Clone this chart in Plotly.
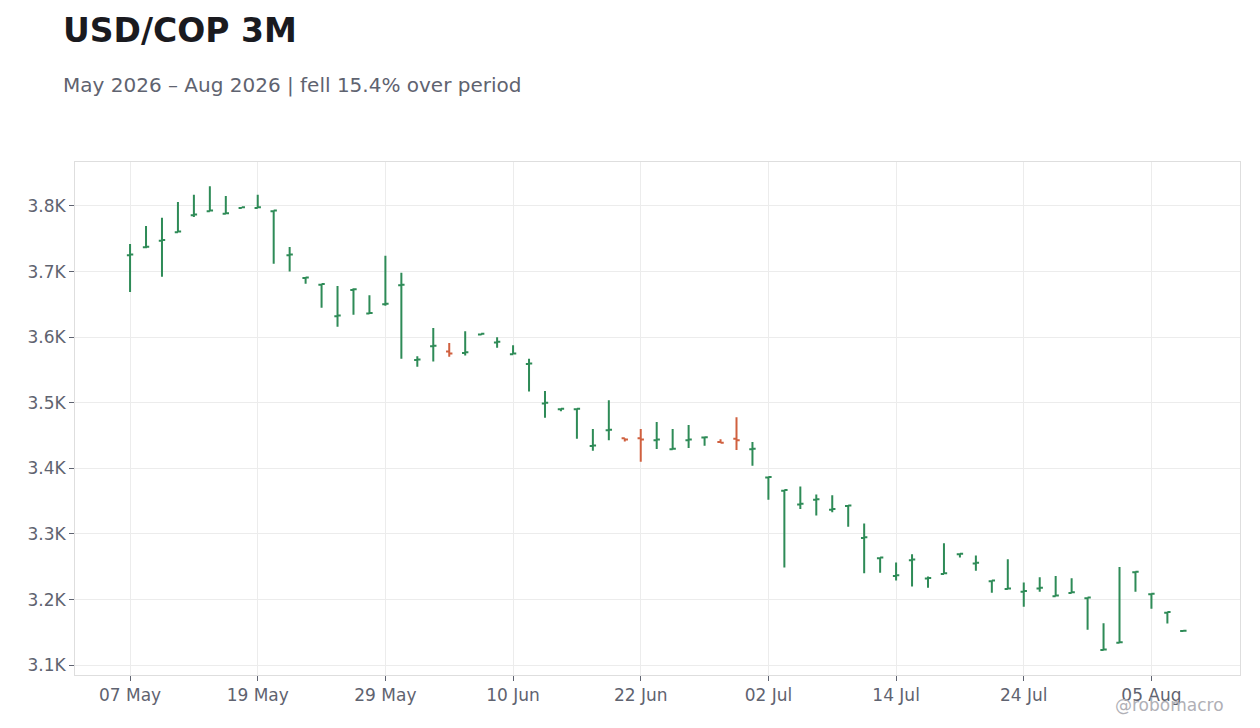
import pandas as pd
import plotly.graph_objects as go

# business days, 07 May 2026 -> 07 Aug 2026
dates = pd.bdate_range("2026-05-07", periods=67)
x_cats = [d.strftime("%Y-%m-%d") for d in dates]

opens = [3725, 3737, 3747, 3760, 3786, 3792, 3788, 3797, 3797, 3792,
         3725, 3690, 3680, 3632, 3672, 3636, 3650, 3679, 3565, 3586,
         3578, 3576, 3604, 3592, 3574, 3559, 3499, 3490, 3490, 3434,
         3458, 3446, 3446, 3443, 3429, 3443, 3447, 3440, 3445, 3429,
         3386, 3366, 3345, 3352, 3337, 3342.5, 3294, 3263, 3236, 3260,
         3232, 3239, 3269, 3255, 3228, 3216, 3212, 3217, 3205, 3210,
         3202, 3123, 3134, 3241.5, 3208, 3180, 3152]
highs = [3742, 3769.5, 3782, 3806, 3817, 3830, 3815, 3798.5, 3817, 3793,
         3737.5, 3691, 3681, 3678, 3674.5, 3664, 3724, 3698, 3571, 3614,
         3591, 3609, 3605.5, 3600, 3587.5, 3567, 3518, 3491.5, 3491, 3460,
         3504, 3446, 3460, 3470.5, 3460, 3466, 3447.5, 3444.5, 3478, 3440,
         3387, 3367, 3372.5, 3360, 3359, 3343.5, 3316, 3264, 3256.5, 3269,
         3235, 3286, 3270.5, 3267, 3229, 3261.5, 3226, 3234, 3236, 3232.5,
         3203, 3164, 3249.5, 3242.5, 3209, 3181, 3153]
lows = [3669, 3735.5, 3692, 3760, 3783, 3792, 3788, 3797, 3797, 3712,
        3700, 3681.5, 3645, 3616, 3634, 3636, 3648, 3567, 3555, 3563,
        3570, 3572, 3603, 3584, 3574, 3517, 3477, 3487, 3445, 3427,
        3443, 3441, 3410, 3429.5, 3429, 3431, 3434.5, 3438.5, 3428, 3404,
        3352, 3249, 3338, 3328, 3333, 3311, 3240, 3241, 3229, 3220,
        3218, 3239, 3264, 3244, 3210.5, 3216, 3189, 3212, 3205, 3210,
        3154, 3123, 3134, 3212, 3186, 3163.5, 3151.5]
closes = [3726, 3738, 3748, 3761, 3787, 3793, 3789, 3798, 3798, 3793,
          3726, 3691, 3681, 3633, 3673, 3637, 3651, 3680, 3566, 3587,
          3575, 3577, 3605, 3593, 3575, 3560, 3500, 3491, 3491, 3435,
          3459, 3444, 3444, 3444, 3430, 3444, 3447.5, 3439, 3443, 3430,
          3387, 3367, 3346, 3353, 3338, 3343.5, 3295, 3264, 3237, 3261,
          3233, 3240, 3270, 3256, 3229, 3217, 3213, 3218, 3206, 3211,
          3203, 3124, 3135, 3242.5, 3209, 3181, 3152.5]

y_ticks = [3100, 3200, 3300, 3400, 3500, 3600, 3700, 3800]
y_labels = ["3.1K", "3.2K", "3.3K", "3.4K", "3.5K", "3.6K", "3.7K", "3.8K"]

tick_idx = list(range(0, len(x_cats), 8))
x_tickvals = [x_cats[i] for i in tick_idx]
x_ticktext = [dates[i].strftime("%d %b") for i in tick_idx]

GREEN = "#2e8b57"
RED = "#d0603f"
GRID = "#ececec"
TXT = "#5f6370"

fig = go.Figure(go.Ohlc(
    x=x_cats, open=opens, high=highs, low=lows, close=closes,
    increasing=dict(line=dict(color=GREEN, width=2)),
    decreasing=dict(line=dict(color=RED, width=2)),
    tickwidth=0.2,
    showlegend=False,
))

fig.update_layout(
    width=1260, height=728,
    margin=dict(l=67, r=28, t=154, b=61),
    paper_bgcolor="white", plot_bgcolor="white",
    font=dict(family="DejaVu Sans", size=18, color=TXT),
    showlegend=False,
)
fig.update_xaxes(
    type="category", range=[-3.45, 69.55],
    tickvals=x_tickvals, ticktext=x_ticktext,
    rangeslider=dict(visible=False),
    showgrid=True, gridcolor=GRID, gridwidth=1,
    showline=True, linecolor="#dedede", linewidth=1, mirror=True,
    ticks="outside", ticklen=5, tickcolor=TXT,
    tickfont=dict(size=17, color=TXT),
)
fig.update_yaxes(
    range=[3085, 3867],
    tickvals=y_ticks, ticktext=y_labels,
    showgrid=True, gridcolor=GRID, gridwidth=1, zeroline=False,
    showline=True, linecolor="#dedede", linewidth=1, mirror=True,
    ticks="outside", ticklen=5, tickcolor=TXT,
    tickfont=dict(size=17, color=TXT),
)

fig.add_annotation(
    text="<b>USD/COP 3M</b>", xref="paper", yref="paper",
    x=-0.012, y=1.257, xanchor="left", yanchor="middle", showarrow=False,
    font=dict(family="DejaVu Sans", size=33, color="#1a1a1f"),
)
fig.add_annotation(
    text="May 2026 – Aug 2026 | fell 15.4% over period", xref="paper", yref="paper",
    x=-0.012, y=1.150, xanchor="left", yanchor="middle", showarrow=False,
    font=dict(family="DejaVu Sans", size=20, color=TXT),
)
fig.add_annotation(
    text="@robomacro", xref="paper", yref="paper",
    x=0.988, y=-0.058, xanchor="right", yanchor="middle", showarrow=False,
    font=dict(family="DejaVu Sans", size=17, color="#b0b0b6"),
)

fig.write_html("out.html")
